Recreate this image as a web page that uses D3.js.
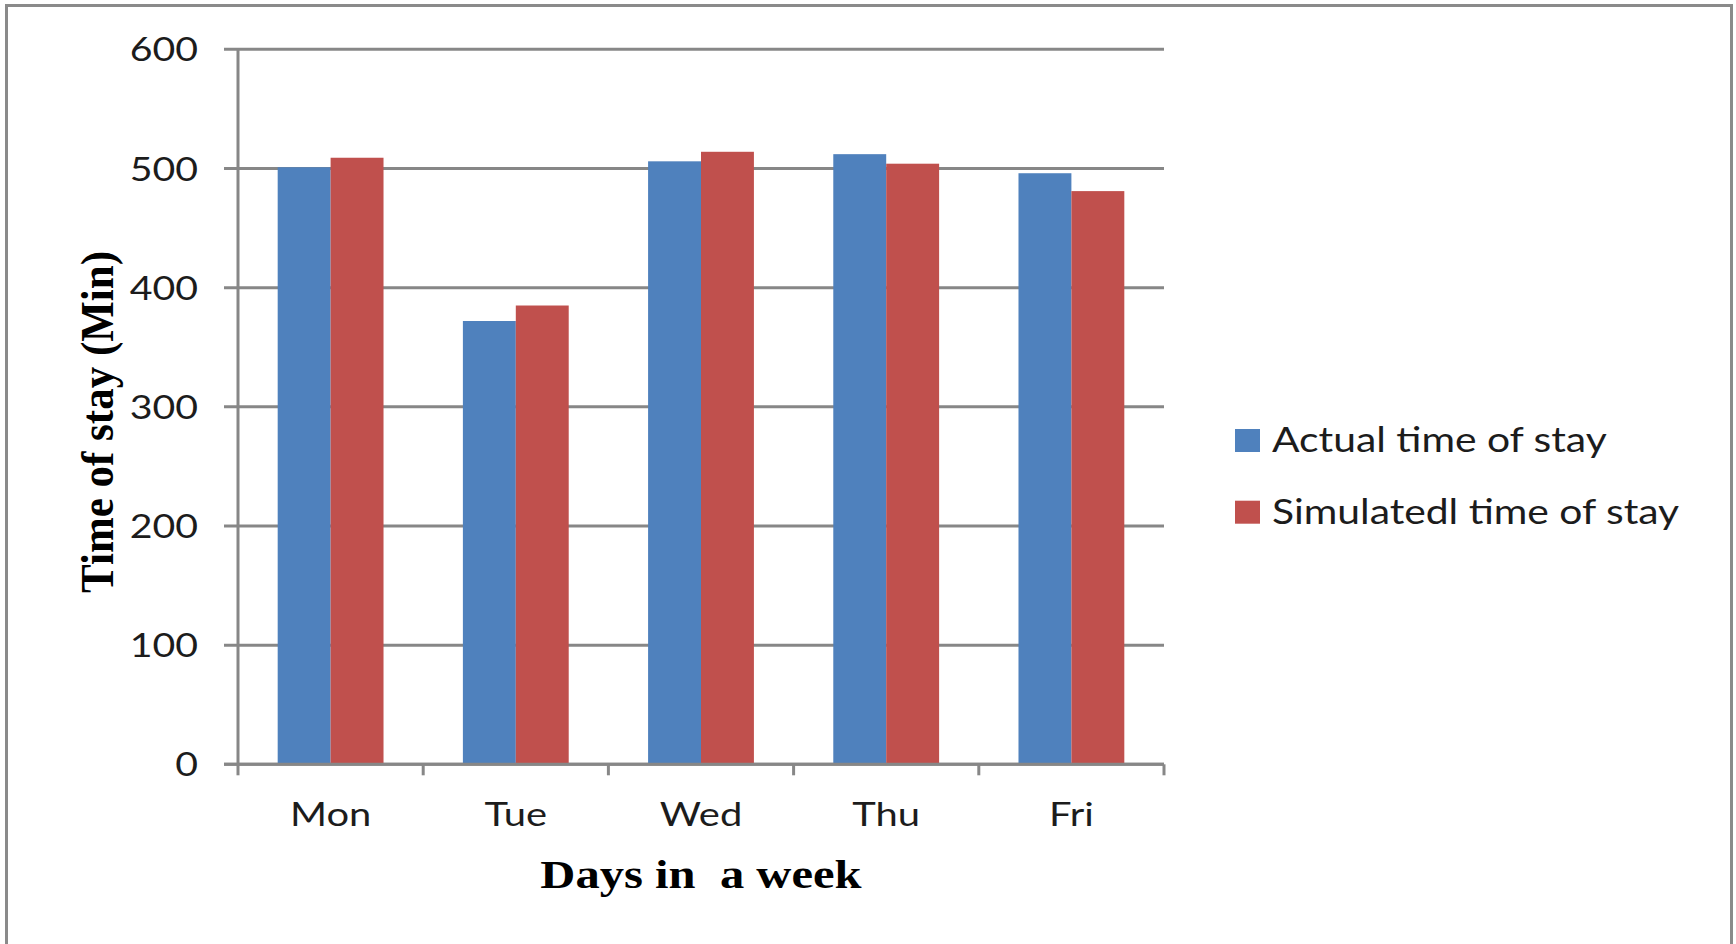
<!DOCTYPE html>
<html>
<head>
<meta charset="utf-8">
<script src="https://cdn.jsdelivr.net/npm/d3@7"></script>
<style>
  html, body { margin: 0; padding: 0; background: #ffffff; }
  svg { display: block; }
</style>
</head>
<body>
<svg id="chart" width="1736" height="944"></svg>
<script>
// Weekly comparison of actual and simulated time of stay (minutes)
const days = ["Mon", "Tue", "Wed", "Thu", "Fri"];
const actualStay = [501, 372, 506, 512, 496];
const simulatedStay = [509, 385, 514, 504, 481];
const seriesNames = ["Actual time of stay", "Simulatedl time of stay"];
const seriesColors = ["#4f81bd", "#c0504d"];
const yTickValues = [0, 100, 200, 300, 400, 500, 600];
const xTitle = "Days in\u00a0\u00a0a week";
const yTitle = "Time of stay (Min)";

const plot = { left: 238, top: 49.3, right: 1164, bottom: 764.3 };
const pw = plot.right - plot.left, ph = plot.bottom - plot.top;
const gridColor = "#878787";
const textColor = "#1c1c1c";
const sansFont = "Lato, 'Open Sans', sans-serif";
const serifFont = "'Liberation Serif', 'DejaVu Serif', serif";

const svg = d3.select("#chart");

// outer frame
svg.append("rect")
  .attr("x", 6.5).attr("y", 5.5)
  .attr("width", 1725).attr("height", 1000)
  .attr("fill", "none").attr("stroke", "#8a8a8a").attr("stroke-width", 3);

const g = svg.append("g").attr("transform", `translate(${plot.left},${plot.top})`);

const x0 = d3.scaleBand().domain(days).range([0, pw])
  .paddingInner(3 / 7).paddingOuter(3 / 14);
const x1 = d3.scaleBand().domain(seriesNames).range([0, x0.bandwidth()]);
const y = d3.scaleLinear().domain([0, 600]).range([ph, 0]);
const step = x0.step();

// horizontal gridlines with their outward tick marks
g.append("g").selectAll("line").data(yTickValues).join("line")
  .attr("x1", -14).attr("x2", pw)
  .attr("y1", d => y(d)).attr("y2", d => y(d))
  .attr("stroke", gridColor).attr("stroke-width", 3);

// bars
const rows = days.map((d, i) => ({ day: d, values: [actualStay[i], simulatedStay[i]] }));
g.append("g").selectAll("g").data(rows).join("g")
  .attr("transform", d => `translate(${x0(d.day)},0)`)
  .selectAll("rect")
  .data(d => d.values.map((v, k) => ({ name: seriesNames[k], value: v, k })))
  .join("rect")
  .attr("x", d => x1(d.name))
  .attr("width", x1.bandwidth())
  .attr("y", d => y(d.value))
  .attr("height", d => y(0) - y(d.value))
  .attr("fill", d => seriesColors[d.k]);

// y axis line
g.append("line").attr("x1", 0).attr("x2", 0).attr("y1", 0).attr("y2", ph)
  .attr("stroke", gridColor).attr("stroke-width", 3);

// y tick labels via d3 axis
const yAxis = g.append("g")
  .call(d3.axisLeft(y).tickValues(yTickValues).tickSize(0).tickPadding(40).tickFormat(d3.format("d")));
yAxis.select(".domain").remove();
yAxis.selectAll("text")
  .attr("fill", textColor)
  .style("font-family", sansFont).style("font-size", "33px")
  .attr("dy", "0.35em")
  .attr("transform", "translate(-40,0) scale(1.19,1)")
  .attr("x", 0);

// x axis: baseline, boundary ticks, category labels
const xg = g.append("g").attr("transform", `translate(0,${ph})`);
xg.append("line").attr("x1", -14).attr("x2", pw).attr("y1", 0).attr("y2", 0)
  .attr("stroke", gridColor).attr("stroke-width", 3);
xg.selectAll("line.tick").data(d3.range(days.length + 1)).join("line")
  .attr("class", "tick")
  .attr("x1", i => i * step).attr("x2", i => i * step)
  .attr("y1", 0).attr("y2", 11)
  .attr("stroke", gridColor).attr("stroke-width", 3);

const xAxis = xg.append("g").call(d3.axisBottom(x0).tickSize(0).tickPadding(0));
xAxis.select(".domain").remove();
xAxis.selectAll("text")
  .attr("fill", textColor)
  .style("font-family", sansFont).style("font-size", "33px")
  .attr("dy", null).attr("y", 0)
  .attr("transform", "translate(0,62) scale(1.21,1)");

// axis titles
svg.append("text")
  .attr("transform", `translate(${plot.left + pw / 2},888) scale(1.215,1)`)
  .attr("text-anchor", "middle")
  .attr("fill", "#000")
  .style("font-family", serifFont).style("font-size", "40px").style("font-weight", "bold")
  .text(xTitle);

svg.append("text")
  .attr("transform", "translate(113,422) scale(1.09,1) rotate(-90)")
  .attr("text-anchor", "middle")
  .attr("fill", "#000")
  .style("font-family", serifFont).style("font-size", "43px").style("font-weight", "bold")
  .text(yTitle);

// legend
const legend = svg.append("g").attr("transform", "translate(1235,429)");
const items = legend.selectAll("g").data(seriesNames).join("g")
  .attr("transform", (d, i) => `translate(0,${i * 71.7})`);
items.append("rect")
  .attr("width", 25).attr("height", 23)
  .attr("fill", (d, i) => seriesColors[i]);
items.append("text")
  .attr("transform", "translate(37,23) scale(1.2,1)")
  .attr("fill", textColor)
  .style("font-family", sansFont).style("font-size", "34px")
  .text(d => d);
</script>
</body>
</html>
